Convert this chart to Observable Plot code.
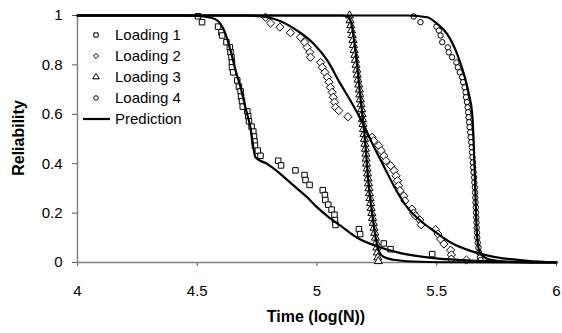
<!DOCTYPE html>
<html><head><meta charset="utf-8">
<script src="https://cdn.jsdelivr.net/npm/d3@7"></script>
<script src="https://cdn.jsdelivr.net/npm/@observablehq/plot@0.6"></script>
<style>
body{margin:0;background:#fff;}
#chart{width:562px;height:333px;font-family:"Liberation Sans",Arial,sans-serif;}
</style></head><body><div id="chart"></div>
<script>
// Tick values and labels
const xTicks = [4, 4.5, 5, 5.5, 6];
const yTicks = [0, 0.2, 0.4, 0.6, 0.8, 1];
const xTitle = "Time (log(N))";
const yTitle = "Reliability";
const legendLabels = ["Loading 1", "Loading 2", "Loading 3", "Loading 4", "Prediction"];

// Observed data [time, reliability]
const loading1 = [[4.503,0.997],[4.52,0.973],[4.587,0.955],[4.601,0.932],[4.604,0.919],[4.622,0.892],[4.636,0.871],[4.639,0.851],[4.643,0.831],[4.645,0.81],[4.645,0.79],[4.65,0.77],[4.667,0.737],[4.674,0.712],[4.681,0.693],[4.683,0.672],[4.687,0.653],[4.69,0.631],[4.709,0.612],[4.713,0.592],[4.716,0.572],[4.727,0.55],[4.734,0.53],[4.737,0.51],[4.739,0.49],[4.741,0.473],[4.753,0.453],[4.764,0.432],[4.838,0.412],[4.85,0.393],[4.91,0.373],[4.948,0.354],[4.952,0.334],[4.969,0.314],[5.024,0.293],[5.033,0.273],[5.035,0.253],[5.047,0.234],[5.061,0.214],[5.073,0.193],[5.075,0.172],[5.077,0.152],[5.175,0.135],[5.18,0.115],[5.279,0.077],[5.307,0.054],[5.481,0.034]];
const loading2 = [[4.785,0.993],[4.806,0.969],[4.845,0.953],[4.889,0.93],[4.931,0.912],[4.948,0.892],[4.959,0.871],[4.97,0.851],[4.973,0.831],[5.015,0.81],[5.022,0.79],[5.033,0.77],[5.043,0.75],[5.05,0.73],[5.056,0.709],[5.063,0.689],[5.068,0.669],[5.073,0.649],[5.077,0.628],[5.091,0.615],[5.129,0.59],[5.23,0.507],[5.237,0.493],[5.258,0.473],[5.268,0.453],[5.28,0.432],[5.288,0.412],[5.308,0.392],[5.322,0.372],[5.33,0.351],[5.336,0.331],[5.341,0.311],[5.346,0.291],[5.363,0.27],[5.367,0.25],[5.397,0.216],[5.403,0.2],[5.411,0.189],[5.429,0.172],[5.435,0.153],[5.495,0.133],[5.505,0.115],[5.516,0.095],[5.53,0.075],[5.558,0.05],[5.561,0.031],[5.561,0.014],[5.624,0.01]];
const loading3 = [[5.136,1],[5.138,0.98],[5.141,0.96],[5.144,0.94],[5.147,0.92],[5.15,0.9],[5.152,0.88],[5.155,0.86],[5.158,0.84],[5.16,0.82],[5.163,0.8],[5.166,0.78],[5.168,0.76],[5.171,0.74],[5.174,0.72],[5.177,0.7],[5.179,0.68],[5.181,0.66],[5.184,0.64],[5.186,0.62],[5.188,0.6],[5.19,0.58],[5.192,0.56],[5.194,0.54],[5.196,0.52],[5.198,0.5],[5.2,0.48],[5.202,0.46],[5.204,0.44],[5.205,0.42],[5.207,0.4],[5.209,0.38],[5.211,0.36],[5.213,0.34],[5.215,0.32],[5.217,0.3],[5.219,0.28],[5.221,0.26],[5.224,0.24],[5.226,0.22],[5.229,0.2],[5.232,0.18],[5.235,0.16],[5.238,0.14],[5.241,0.12],[5.244,0.1],[5.247,0.08],[5.25,0.06],[5.252,0.04],[5.254,0.02],[5.256,0.005]];
const loading4 = [[5.404,0.996],[5.432,0.973],[5.499,0.955],[5.509,0.939],[5.516,0.919],[5.523,0.892],[5.546,0.871],[5.55,0.851],[5.564,0.831],[5.582,0.81],[5.588,0.79],[5.596,0.77],[5.606,0.75],[5.61,0.73],[5.616,0.709],[5.62,0.689],[5.622,0.669],[5.626,0.649],[5.629,0.628],[5.631,0.608],[5.633,0.588],[5.635,0.568],[5.637,0.548],[5.64,0.527],[5.642,0.507],[5.644,0.487],[5.646,0.466],[5.647,0.446],[5.649,0.426],[5.651,0.405],[5.652,0.385],[5.654,0.365],[5.656,0.344],[5.657,0.324],[5.659,0.304],[5.66,0.283],[5.661,0.263],[5.662,0.243],[5.663,0.223],[5.664,0.202],[5.665,0.182],[5.666,0.162],[5.667,0.141],[5.668,0.121],[5.669,0.101],[5.671,0.08],[5.674,0.06],[5.677,0.04],[5.68,0.02],[5.683,0.01]];

// Predicted curves
const pred1 = [[4,1],[4.45,1],[4.5,0.998],[4.562,0.99],[4.597,0.966],[4.618,0.926],[4.639,0.858],[4.66,0.777],[4.681,0.709],[4.701,0.628],[4.722,0.547],[4.743,0.426],[4.792,0.399],[4.848,0.358],[4.903,0.311],[4.959,0.264],[5.001,0.223],[5.042,0.189],[5.098,0.149],[5.168,0.1],[5.258,0.063],[5.349,0.038],[5.488,0.018],[5.6,0.01],[5.75,0.004],[6,0]];
const pred2 = [[4,1],[4.7,1],[4.792,0.993],[4.848,0.977],[4.917,0.939],[4.987,0.885],[5.043,0.818],[5.098,0.723],[5.14,0.655],[5.189,0.568],[5.237,0.47],[5.279,0.39],[5.321,0.31],[5.377,0.223],[5.432,0.169],[5.488,0.128],[5.558,0.081],[5.641,0.047],[5.738,0.023],[5.878,0.007],[6,0.001]];
const pred3 = [[4,1],[5.1,1],[5.13,0.995],[5.145,0.96],[5.16,0.86],[5.18,0.68],[5.2,0.5],[5.215,0.32],[5.23,0.2],[5.245,0.1],[5.258,0.045],[5.28,0.022],[5.32,0.011],[5.4,0.004],[5.55,0.001],[6,0]];
const pred4 = [[4,1],[5.38,1],[5.46,0.993],[5.502,0.966],[5.543,0.926],[5.585,0.845],[5.613,0.764],[5.634,0.683],[5.648,0.602],[5.654,0.493],[5.659,0.35],[5.664,0.2],[5.669,0.1],[5.68,0.04],[5.72,0.012],[5.8,0.003],[6,0]];

const X = d => d[0], Y = d => d[1];
const dotOpts = {x: X, y: Y, stroke: "black", fill: "white", strokeWidth: 1};
const lineOpts = {x: X, y: Y, stroke: "black", strokeWidth: 2.2, curve: "monotone-x"};
const FONT = '"Liberation Sans", Arial, sans-serif';

const chart = Plot.plot({
  width: 562, height: 333,
  marginLeft: 77, marginRight: 6, marginTop: 15, marginBottom: 71,
  style: {fontFamily: FONT, background: "white", color: "black"},
  x: {domain: [4, 6]},
  y: {domain: [0, 1]},
  marks: [
    Plot.axisX({ticks: xTicks, tickSize: 4, tickPadding: 19, fontSize: 15, stroke: "#555", label: null, tickFormat: d => String(d)}),
    Plot.axisY({ticks: yTicks, tickSize: 5, tickPadding: 10, fontSize: 15, stroke: "#555", label: null, tickFormat: d => String(d)}),
    Plot.ruleY([0], {stroke: "#808080", strokeWidth: 1.5}),
    Plot.ruleX([4], {stroke: "#808080", strokeWidth: 1.5}),
    Plot.dot(loading1, {...dotOpts, symbol: "square", r: 3.1}),
    Plot.dot(loading2, {...dotOpts, symbol: "diamond2", r: 3.7}),
    Plot.dot(loading3, {...dotOpts, symbol: "triangle", r: 3}),
    Plot.dot(loading4, {...dotOpts, symbol: "circle", r: 2.7}),
    Plot.line(pred1, lineOpts),
    Plot.line(pred2, lineOpts),
    Plot.line(pred3, lineOpts),
    Plot.line(pred4, lineOpts)
  ]
});
document.getElementById("chart").appendChild(chart);

const svg = d3.select(chart);
// Axis titles
svg.append("text").attr("x", 316).attr("y", 322).attr("text-anchor", "middle")
  .attr("font-family", FONT).attr("font-weight", "bold").attr("font-size", 16).text(xTitle);
svg.append("text").attr("transform", "translate(24,138) rotate(-90)").attr("text-anchor", "middle")
  .attr("font-family", FONT).attr("font-weight", "bold").attr("font-size", 16).text(yTitle);

// Legend (inside plot, top-left)
const lg = svg.append("g").attr("font-size", 15).attr("font-family", FONT).attr("text-anchor", "start");
const syms = [d3.symbolSquare, d3.symbolDiamond2, d3.symbolTriangle, d3.symbolCircle];
legendLabels.forEach((lab, i) => {
  const cy = 35 + i * 21;
  if (i < 4) {
    lg.append("path").attr("d", d3.symbol(syms[i], i === 3 ? 16 : 18)())
      .attr("transform", `translate(96,${cy})`).attr("fill", "white").attr("stroke", "black").attr("stroke-width", 1);
  } else {
    lg.append("line").attr("x1", 83).attr("x2", 110).attr("y1", cy).attr("y2", cy)
      .attr("stroke", "black").attr("stroke-width", 2.2);
  }
  lg.append("text").attr("x", 115).attr("y", cy).attr("dy", "0.35em").attr("text-anchor", "start").text(lab);
});
</script>
</body></html>
